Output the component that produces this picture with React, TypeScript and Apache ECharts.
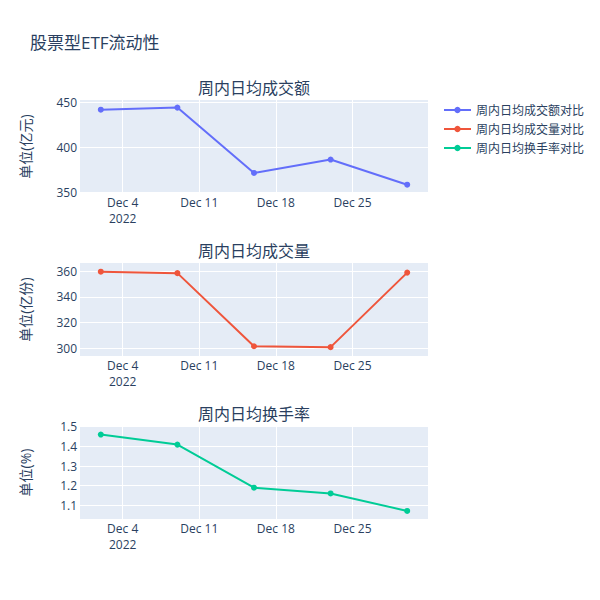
import * as echarts from 'echarts';
import React, { useEffect, useRef } from 'react';

const dates = ['2022-12-02', '2022-12-09', '2022-12-16', '2022-12-23', '2022-12-30'];
const amount = [442.1, 444.4, 371.3, 386.3, 358.2];
const volume = [359.7, 358.6, 301.6, 300.9, 359.0];
const turnover = [1.46, 1.409, 1.19, 1.161, 1.072];

const seriesNames = ['周内日均成交额对比', '周内日均成交量对比', '周内日均换手率对比'];
const panelTitles = ['周内日均成交额', '周内日均成交量', '周内日均换手率'];
const yNames = ['单位(亿元)', '单位(亿份)', '单位(%)'];
const colors = ['#636efa', '#EF553B', '#00cc96'];

const xTickDates = ['2022-12-04', '2022-12-11', '2022-12-18', '2022-12-25'];
const yTicks = [
  [350, 400, 450],
  [300, 320, 340, 360],
  [1.1, 1.2, 1.3, 1.4, 1.5],
];
const yRanges = [
  [348.9, 452.9],
  [294, 366.5],
  [1.031, 1.5035],
];

const MONTHS = ['Jan', 'Feb', 'Mar', 'Apr', 'May', 'Jun', 'Jul', 'Aug', 'Sep', 'Oct', 'Nov', 'Dec'];
const DAY = 86400000;

function toTs(s: string): number {
  const [y, m, d] = s.split('-').map(Number);
  return new Date(y, m - 1, d).getTime();
}

const FONT = '"Open Sans", "Noto Sans CJK SC", sans-serif';
const TEXT = '#2a3f5f';

export default function App(): React.ReactElement {
  const ref = useRef<HTMLDivElement>(null);

  useEffect(() => {
    document.body.style.margin = '0';
    if (!ref.current) return;
    const chart = echarts.init(ref.current, undefined, { renderer: 'svg' });

    const xs = dates.map(toTs);
    const xTicks = xTickDates.map(toTs);
    const xMin = xs[0] - 1.9 * DAY;
    const xMax = xs[xs.length - 1] + 1.9 * DAY;
    const tops = [100, 263, 426];
    const values = [amount, volume, turnover];

    chart.setOption({
      animation: false,
      backgroundColor: '#fff',
      textStyle: { fontFamily: FONT, color: TEXT },
      title: {
        text: '股票型ETF流动性',
        left: 30,
        top: 34,
        padding: 0,
        textStyle: { fontFamily: FONT, fontSize: 17, fontWeight: 'normal', color: TEXT },
      },
      legend: {
        orient: 'vertical',
        left: 443,
        top: 104,
        padding: 0,
        itemWidth: 27,
        itemHeight: 8,
        itemGap: 7,
        data: seriesNames,
        textStyle: { fontFamily: FONT, fontSize: 12, color: TEXT },
      },
      graphic: panelTitles.map((t, i) => ({
        type: 'text',
        x: 254,
        y: tops[i] - 12,
        style: {
          text: t,
          textAlign: 'center',
          textVerticalAlign: 'middle',
          font: `16px ${FONT}`,
          fill: TEXT,
        },
      })),
      grid: tops.map((top) => ({
        left: 80,
        right: 172,
        top,
        height: 93,
        show: true,
        backgroundColor: '#E5ECF6',
        borderWidth: 0,
      })),
      xAxis: tops.map((_, i) => ({
        type: 'value',
        gridIndex: i,
        min: xMin,
        max: xMax,
        axisLine: { show: false },
        axisTick: { show: false, customValues: xTicks },
        splitLine: { show: true, lineStyle: { color: '#fff', width: 1 } },
        axisLabel: {
          customValues: xTicks,
          color: TEXT,
          fontSize: 12,
          fontFamily: FONT,
          lineHeight: 16,
          margin: 1,
          formatter: (v: number) => {
            const d = new Date(v);
            const s = `${MONTHS[d.getMonth()]} ${d.getDate()}`;
            return v === xTicks[0] ? `${s}\n${d.getFullYear()}` : s;
          },
        },
      })),
      yAxis: tops.map((_, i) => ({
        type: 'value',
        gridIndex: i,
        min: yRanges[i][0],
        max: yRanges[i][1],
        name: yNames[i],
        nameLocation: 'middle',
        nameGap: 48,
        nameTextStyle: { fontFamily: FONT, fontSize: 14, color: TEXT },
        axisLine: { show: false },
        axisTick: { show: false, customValues: yTicks[i] },
        splitLine: { show: true, lineStyle: { color: '#fff', width: 1 } },
        axisLabel: {
          customValues: yTicks[i],
          color: TEXT,
          fontSize: 12,
          fontFamily: FONT,
          margin: 3,
        },
      })),
      series: values.map((vals, i) => ({
        name: seriesNames[i],
        type: 'line',
        xAxisIndex: i,
        yAxisIndex: i,
        data: xs.map((x, j) => [x, vals[j]]),
        symbol: 'circle',
        symbolSize: 6,
        color: colors[i],
        lineStyle: { color: colors[i], width: 2 },
        itemStyle: { color: colors[i] },
      })),
    });

    return () => {
      chart.dispose();
    };
  }, []);

  return <div ref={ref} style={{ width: 600, height: 600 }} />;
}
